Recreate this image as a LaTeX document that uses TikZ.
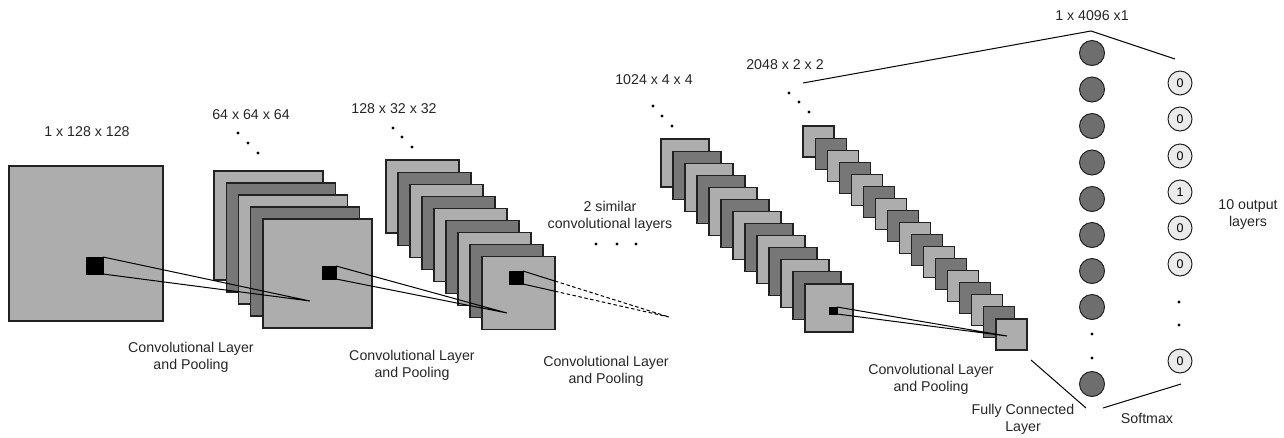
\documentclass[tikz,border=0pt]{standalone}
\usepackage{fontspec}
\setmainfont{Liberation Sans}
\usetikzlibrary{calc}
\definecolor{maplight}{HTML}{ADADAD}
\definecolor{mapdark}{HTML}{777777}
\definecolor{neurondark}{HTML}{6E6E6E}
\definecolor{outlight}{HTML}{EBEBEB}
\definecolor{edge}{HTML}{222222}
\begin{document}
\begin{tikzpicture}[x=1pt,y=-1pt,
  fmap/.style={draw=edge, line width=1.1pt, inner sep=0pt, outer sep=0pt, anchor=north west},
  kernel/.style={fill=black, draw=black, line width=0.6pt, inner sep=0pt, outer sep=0pt, anchor=north west},
  cone/.style={draw=black, line width=1pt},
  dot/.style={circle, fill=black, inner sep=0pt, minimum size=3.4pt},
  lbl/.style={font=\fontsize{14.2}{17}\selectfont, align=center, inner sep=0pt, text=black!85},
  neuron/.style={circle, draw=edge, fill=neurondark, line width=1pt, minimum size=25pt, inner sep=0pt},
  outunit/.style={circle, draw=edge, fill=outlight, line width=1pt, minimum size=24pt, inner sep=0pt, font=\fontsize{12.5}{14}\selectfont},
  link/.style={draw=black, line width=1pt}
]
\useasboundingbox (0,0) rectangle (1284,437);

% ---- input image ----
\node[fmap, fill=maplight, minimum width=154pt, minimum height=155pt] (in) at (9,166) {};
\node[kernel, minimum width=17pt, minimum height=17pt] (k1) at (86,257) {};

% ---- feature map stacks ----
\foreach \i in {1,...,5}{
  \ifodd\i \def\fc{maplight}\else\def\fc{mapdark}\fi
  \node[fmap, fill=\fc, minimum width=109pt, minimum height=109pt] (L2-\i) at ({214+12.25*(\i-1)},{171+12*(\i-1)}) {};
}
\foreach \i in {1,...,9}{
  \ifodd\i \def\fc{maplight}\else\def\fc{mapdark}\fi
  \node[fmap, fill=\fc, minimum width=73pt, minimum height=73pt] (L3-\i) at ({386+12*(\i-1)},{160+12.1*(\i-1)}) {};
}
\foreach \i in {1,...,13}{
  \ifodd\i \def\fc{maplight}\else\def\fc{mapdark}\fi
  \node[fmap, fill=\fc, minimum width=48pt, minimum height=48pt] (L4-\i) at ({661+12*(\i-1)},{139+12.08*(\i-1)}) {};
}
\foreach \i in {1,...,17}{
  \ifodd\i \def\fc{maplight}\else\def\fc{mapdark}\fi
  \node[fmap, fill=\fc, minimum width=31pt, minimum height=31pt] (L5-\i) at ({803+12.06*(\i-1)},{126+12.06*(\i-1)}) {};
}

% ---- kernels and receptive-field lines ----
\coordinate (c1) at (310,301);
\draw[cone] (k1.north east) -- (c1) -- (k1.south east);

\node[kernel, minimum width=14pt, minimum height=13pt] (k2) at (322,266) {};
\coordinate (c2) at (507,313);
\draw[cone] (k2.north east) -- (c2) -- (k2.south east);

\node[kernel, minimum width=14pt, minimum height=13pt] (k3) at (509,271) {};
\coordinate (c3) at (669,317);
\coordinate (m1) at ($(k3.north east)!0.219!(c3)$);
\coordinate (m2) at ($(k3.south east)!0.219!(c3)$);
\draw[cone] (k3.north east) -- (m1) (k3.south east) -- (m2);
\draw[cone, dash pattern=on 3.5pt off 2.5pt] (m1) -- (c3) (m2) -- (c3);

\node[kernel, minimum width=8pt, minimum height=7pt] (k4) at (829,307) {};
\coordinate (c4) at (1007,336);
\draw[cone] (k4.north east) -- (c4) -- (k4.south east);

% ---- depth dots ----
\foreach \p in {(238,133),(248,143),(258,153),
                (393,128),(402,137),(412,147),
                (653,106),(662,116),(672,126),
                (789,93),(799,102),(809,112),
                (596,244),(617,244),(636,244),
                (1092,334),(1092,358),
                (1179,302),(1179,325)}
  \node[dot] at \p {};

% ---- fully connected layer ----
\foreach \y [count=\n] in {53,89.5,126,162.5,199,235,271,307,384}
  \node[neuron] (fc\n) at (1092,\y) {};

% ---- softmax outputs ----
\foreach \y/\v [count=\n] in {83/0,119/0,156/0,192/1,228/0,264/0,361/0}
  \node[outunit] (sm\n) at (1180,\y) {\v};

% ---- bracket lines ----
\coordinate (l5top) at (803,83);
\coordinate (fcpeak) at (1091,31);
\coordinate (smtop) at (1175,59);
\draw[link] (l5top) -- (fcpeak) -- (smtop);
\coordinate (l5bot) at (1031,360);
\coordinate (fcbot) at (1086,408);
\draw[link] (l5bot) -- (fcbot);
\coordinate (smbotl) at (1103,408);
\coordinate (smbotr) at (1181,384);
\draw[link] (smbotl) -- (smbotr);

% ---- labels ----
\node[lbl] (t1) at (87,132) {1 x 128 x 128};
\node[lbl] (t2) at (251,115) {64 x 64 x 64};
\node[lbl] (t3) at (394,109) {128 x 32 x 32};
\node[lbl] (t4) at (654,80) {1024 x 4 x 4};
\node[lbl] (t5) at (785,65) {2048 x 2 x 2};
\node[lbl] (t6) at (1092,16) {1 x 4096 x1};
\node[lbl] (sim) at (610,216) {2 similar\\convolutional layers};
\node[lbl] (cp1) at (191,357) {Convolutional Layer\\and Pooling};
\node[lbl] (cp2) at (412,365) {Convolutional Layer\\and Pooling};
\node[lbl] (cp3) at (606,371) {Convolutional Layer\\and Pooling};
\node[lbl] (cp4) at (931,379) {Convolutional Layer\\and Pooling};
\node[lbl] (fcl) at (1023,419) {Fully Connected\\Layer};
\node[lbl] (sml) at (1147,418) {Softmax};
\node[lbl] (out) at (1248,215) {10 output\\layers};
\end{tikzpicture}
\end{document}
